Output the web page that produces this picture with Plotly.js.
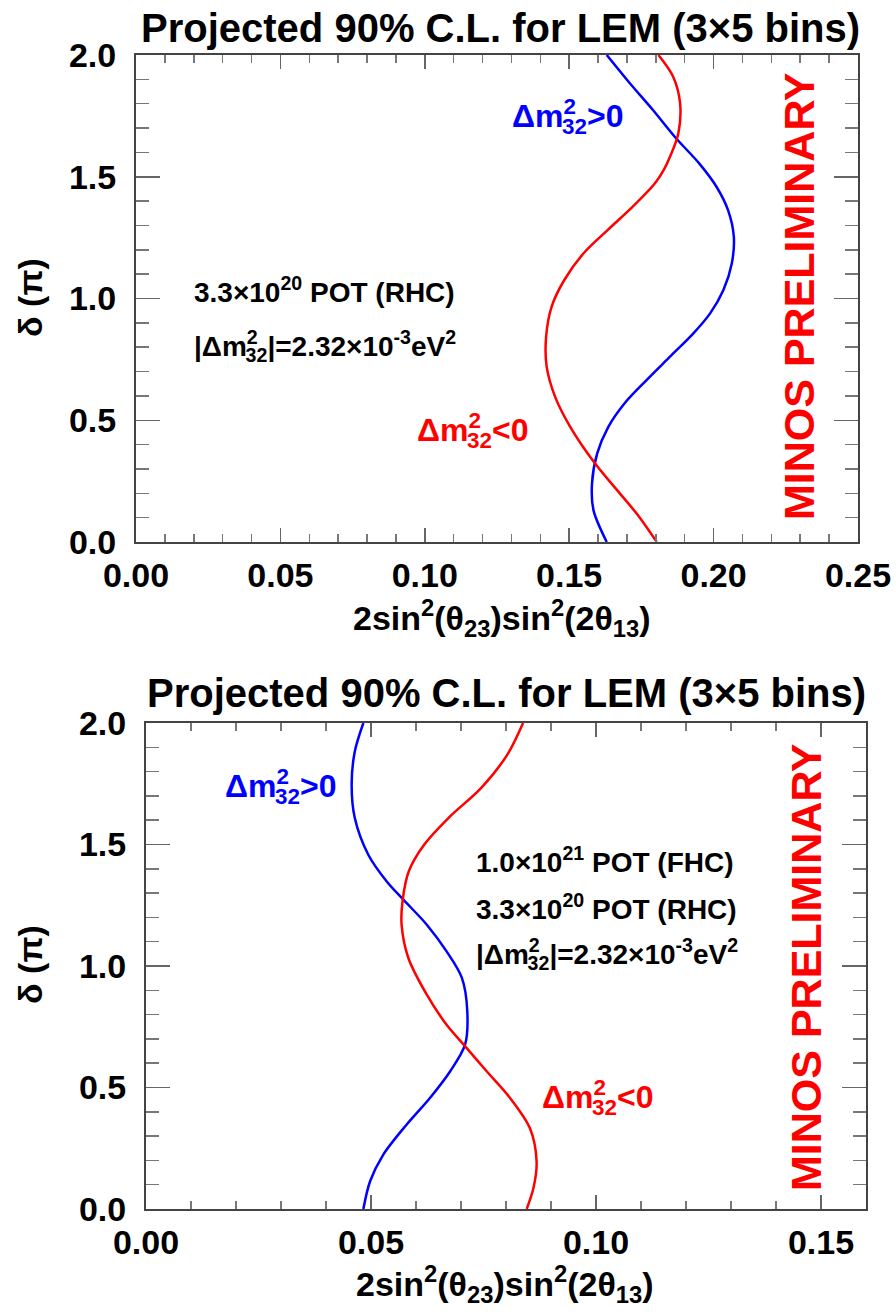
<!DOCTYPE html>
<html>
<head>
<meta charset="utf-8">
<script src="https://cdn.plot.ly/plotly-3.0.1.min.js"></script>
<style>html,body{margin:0;padding:0;background:#fff;}#chart{width:896px;height:1312px;}</style>
</head>
<body>
<div id="chart"></div>
<script>
// ---- Top panel: 3.3e20 POT (RHC) ----
const topNormalDelta = [2.0, 1.884, 1.774, 1.658, 1.555, 1.459, 1.363, 1.254, 1.144, 1.035, 0.939, 0.857, 0.761, 0.665, 0.570, 0.474, 0.364, 0.241, 0.131, 0.0];
const topNormalX     = [0.163, 0.171, 0.179, 0.187, 0.195, 0.201, 0.205, 0.207, 0.2063, 0.2034, 0.1988, 0.193, 0.1849, 0.1768, 0.1692, 0.1636, 0.1597, 0.1579, 0.1584, 0.163];
const topInvertedDelta = [2.0, 1.911, 1.802, 1.679, 1.582, 1.525, 1.473, 1.377, 1.281, 1.186, 1.076, 0.966, 0.843, 0.720, 0.597, 0.474, 0.323, 0.214, 0.104, 0.0];
const topInvertedX     = [0.1809, 0.186, 0.1884, 0.1878, 0.1849, 0.1826, 0.1797, 0.1720, 0.1633, 0.155, 0.1483, 0.1439, 0.142, 0.1422, 0.1451, 0.1503, 0.1589, 0.1665, 0.1742, 0.1803];

// ---- Bottom panel: 1.0e21 FHC + 3.3e20 RHC ----
const botNormalDelta = [2.0, 1.883, 1.746, 1.609, 1.458, 1.348, 1.273, 1.170, 1.060, 0.951, 0.813, 0.676, 0.567, 0.457, 0.347, 0.223, 0.114, 0.0];
const botNormalX     = [0.0483, 0.0464, 0.0457, 0.0464, 0.0494, 0.0535, 0.0572, 0.0624, 0.0668, 0.0702, 0.0714, 0.0709, 0.0676, 0.0631, 0.0579, 0.0527, 0.0498, 0.0483];
const botInvertedDelta = [2.0, 1.870, 1.733, 1.609, 1.499, 1.390, 1.266, 1.170, 1.033, 0.882, 0.758, 0.670, 0.567, 0.457, 0.333, 0.196, 0.086, 0.0];
const botInvertedX     = [0.0838, 0.0803, 0.0745, 0.0672, 0.0618, 0.0584, 0.0570, 0.0568, 0.0583, 0.0624, 0.0668, 0.0709, 0.0757, 0.0809, 0.0853, 0.0868, 0.0861, 0.0846];

const titleText = "Projected 90% C.L. for LEM (3×5 bins)";
const xTitleText = "2sin<sup>2</sup>(θ<sub>23</sub>)sin<sup>2</sup>(2θ<sub>13</sub>)";
const yTitleText = "δ (π)";
const dm = 'Δm<sup><span style="letter-spacing:-0.62em">2</span></sup><sub>32</sub>';
const labelNormal = dm + ">0";
const labelInverted = dm + "<0";
const topInfo = ["3.3×10<sup>20</sup> POT (RHC)", "|" + dm + "|=2.32×10<sup>-3</sup>eV<sup>2</sup>"];
const botInfo = ["1.0×10<sup>21</sup> POT (FHC)", "3.3×10<sup>20</sup> POT (RHC)", "|" + dm + "|=2.32×10<sup>-3</sup>eV<sup>2</sup>"];
const watermark = "MINOS PRELIMINARY";

const FONT = "Liberation Sans, Arial, Helvetica, sans-serif";
const BLUE = "#0000ff", RED = "#ff0000";
const W = 896, H = 1312;
const px = v => v / W, py = v => 1 - v / H;

const lineStyle = c => ({color: c, width: 2.5, shape: 'spline', smoothing: 0.9});
const traces = [
  {x: topNormalX, y: topNormalDelta, xaxis: 'x', yaxis: 'y', mode: 'lines', line: lineStyle(BLUE), name: 'Δm²32>0'},
  {x: topInvertedX, y: topInvertedDelta, xaxis: 'x', yaxis: 'y', mode: 'lines', line: lineStyle(RED), name: 'Δm²32<0'},
  {x: botNormalX, y: botNormalDelta, xaxis: 'x2', yaxis: 'y2', mode: 'lines', line: lineStyle(BLUE), name: 'Δm²32>0'},
  {x: botInvertedX, y: botInvertedDelta, xaxis: 'x2', yaxis: 'y2', mode: 'lines', line: lineStyle(RED), name: 'Δm²32<0'}
];

function xAxis(domain, range, anchor) {
  return {
    domain: domain, range: range, anchor: anchor,
    showgrid: false, zeroline: false,
    showline: true, linecolor: '#444', linewidth: 2, mirror: 'ticks',
    ticks: 'inside', ticklen: 14, tickwidth: 1.5, tickcolor: '#666',
    dtick: 0.05, tick0: 0, tickformat: '.2f',
    minor: {dtick: 0.01, ticks: 'inside', ticklen: 8, tickwidth: 1.5, tickcolor: '#777', showgrid: false},
    tickfont: {family: FONT, size: 34, color: '#000', weight: 'bold'},
    ticklabelstandoff: 2,
    fixedrange: true
  };
}
function yAxis(domain, anchor) {
  return {
    domain: domain, range: [0, 2], anchor: anchor,
    showgrid: false, zeroline: false,
    showline: true, linecolor: '#444', linewidth: 2, mirror: 'ticks',
    ticks: 'inside', ticklen: 24, tickwidth: 1.5, tickcolor: '#666',
    dtick: 0.5, tick0: 0, tickformat: '.1f',
    minor: {dtick: 0.1, ticks: 'inside', ticklen: 13, tickwidth: 1.5, tickcolor: '#777', showgrid: false},
    tickfont: {family: FONT, size: 34, color: '#000', weight: 'bold'},
    ticklabelstandoff: 11,
    fixedrange: true
  };
}

function ann(text, x, y, opts) {
  return Object.assign({
    text: text, xref: 'paper', yref: 'paper', x: px(x), y: py(y),
    xanchor: 'left', yanchor: 'middle', showarrow: false,
    font: {family: FONT, size: 28, color: '#000', weight: 'bold'}
  }, opts || {});
}

const annotations = [
  // titles
  ann(titleText, 500, 28, {xanchor: 'center', font: {family: FONT, size: 40, color: '#000', weight: 'bold'}}),
  ann(titleText, 506, 693, {xanchor: 'center', font: {family: FONT, size: 40, color: '#000', weight: 'bold'}}),
  // axis titles
  ann(xTitleText, 502, 618, {xanchor: 'center', font: {family: FONT, size: 34, color: '#000', weight: 'bold'}}),
  ann(xTitleText, 505, 1284, {xanchor: 'center', font: {family: FONT, size: 34, color: '#000', weight: 'bold'}}),
  ann(yTitleText, 30, 298, {xanchor: 'center', textangle: -90, font: {family: FONT, size: 34, color: '#000', weight: 'bold'}}),
  ann(yTitleText, 30, 965, {xanchor: 'center', textangle: -90, font: {family: FONT, size: 34, color: '#000', weight: 'bold'}}),
  // info text top
  ann(topInfo[0], 192, 290),
  ann(topInfo[1], 192, 346),
  // info text bottom
  ann(botInfo[0], 474, 860),
  ann(botInfo[1], 474, 907),
  ann(botInfo[2], 474, 954),
  // curve labels
  ann(labelNormal, 510, 118, {font: {family: FONT, size: 32, color: BLUE, weight: 'bold'}}),
  ann(labelInverted, 415, 432, {font: {family: FONT, size: 32, color: RED, weight: 'bold'}}),
  ann(labelNormal, 223, 788, {font: {family: FONT, size: 32, color: BLUE, weight: 'bold'}}),
  ann(labelInverted, 540, 1099, {font: {family: FONT, size: 32, color: RED, weight: 'bold'}}),
  // watermark
  ann(watermark, 799, 296, {xanchor: 'center', textangle: -90, font: {family: FONT, size: 43, color: RED, weight: 'bold'}}),
  ann(watermark, 806, 967, {xanchor: 'center', textangle: -90, font: {family: FONT, size: 43, color: RED, weight: 'bold'}})
];

const layout = {
  width: W, height: H,
  margin: {l: 0, r: 0, t: 0, b: 0},
  paper_bgcolor: '#fff', plot_bgcolor: '#fff',
  showlegend: false,
  font: {family: FONT, color: '#000', weight: 'bold'},
  xaxis: xAxis([px(136), px(858)], [0, 0.25], 'y'),
  yaxis: yAxis([py(542), py(55)], 'x'),
  xaxis2: xAxis([px(146), px(866)], [0, 0.16], 'y2'),
  yaxis2: yAxis([py(1209), py(723)], 'x2'),
  annotations: annotations
};

Plotly.newPlot('chart', traces, layout, {staticPlot: true, displayModeBar: false});
</script>
</body>
</html>
